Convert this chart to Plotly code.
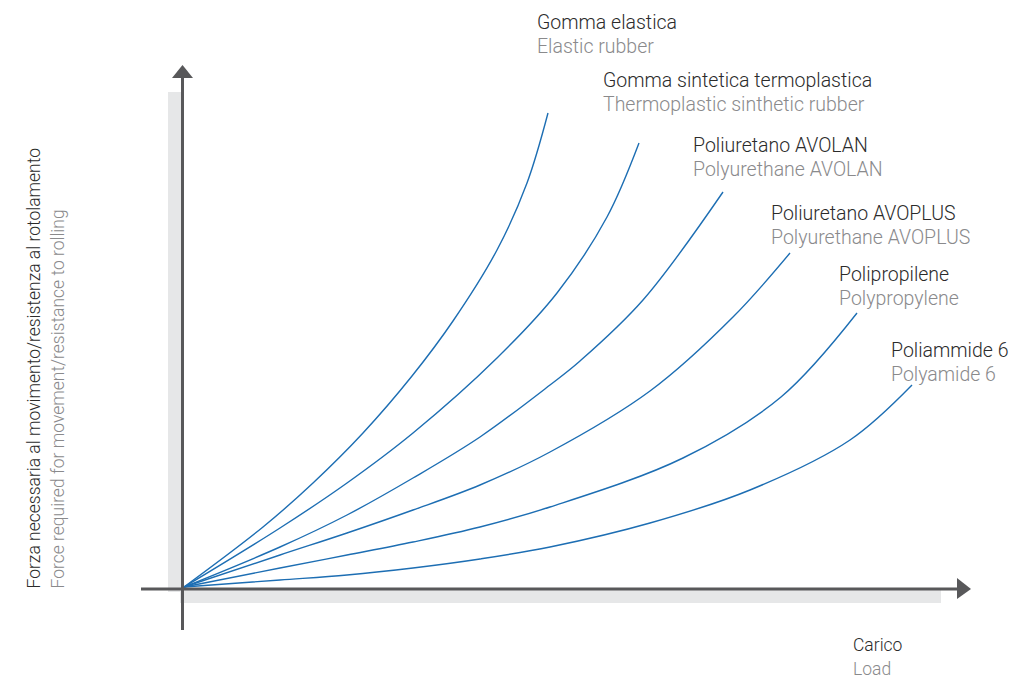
import plotly.graph_objects as go

# Curves (x = load, y = force, arbitrary units)
names_it = ["Gomma elastica", "Gomma sintetica termoplastica", "Poliuretano AVOLAN",
            "Poliuretano AVOPLUS", "Polipropilene", "Poliammide 6"]
names_en = ["Elastic rubber", "Thermoplastic sinthetic rubber", "Polyurethane AVOLAN",
            "Polyurethane AVOPLUS", "Polypropylene", "Polyamide 6"]

x_gomma = [0, 79, 129, 179, 228, 269, 313, 343, 364]
y_gomma = [0, 60, 104, 154, 211, 266, 337, 404, 474]

x_termo = [0, 96, 163, 229, 313, 373, 423, 455]
y_termo = [0, 59, 104, 154, 229, 294, 370, 444]

x_avolan = [0, 96, 163, 229, 296, 366, 396, 459, 539]
y_avolan = [0, 40, 72, 109, 150, 202, 226, 287, 395]

x_avoplus = [0, 96, 163, 229, 296, 366, 466, 549, 606]
y_avoplus = [0, 32, 54, 77, 102, 135, 196, 270, 334]

x_pp = [0, 96, 163, 229, 296, 366, 499, 597, 673]
y_pp = [0, 19, 32, 45, 60, 80, 129, 190, 274]

x_pa = [0, 96, 163, 229, 296, 366, 466, 566, 666, 728]
y_pa = [0, 7, 12, 19, 28, 40, 64, 97, 147, 202]

xs = [x_gomma, x_termo, x_avolan, x_avoplus, x_pp, x_pa]
ys = [y_gomma, y_termo, y_avolan, y_avoplus, y_pp, y_pa]

# label anchor (left x, baseline y of first line)
label_x = [351, 417, 507, 585, 653, 705]
label_base = [558, 500, 435, 367, 306, 230]

y_title_it = "Forza necessaria al movimento/resistenza al rotolamento"
y_title_en = "Force required for movement/resistance to rolling"
x_title_it = "Carico"
x_title_en = "Load"

FONT = "Roboto, Liberation Sans, sans-serif"
BLUE = "#1d6eb3"
AXIS = "#58585a"
BAND = "#e6e7e8"
DARK = "#2b2b2b"
GREY = "#8a8a8c"

fig = go.Figure()
for xv, yv in zip(xs, ys):
    fig.add_trace(go.Scatter(x=xv, y=yv, mode="lines",
                             line=dict(color=BLUE, width=1.4, shape="spline", smoothing=1.0),
                             hoverinfo="skip", showlegend=False))

shapes = [
    dict(type="rect", x0=-16, x1=-2, y0=-5, y1=495, fillcolor=BAND, line=dict(width=0), layer="below"),
    dict(type="rect", x0=-4, x1=757, y0=-16, y1=-2, fillcolor=BAND, line=dict(width=0), layer="below"),
    dict(type="line", x0=-1.5, x1=-1.5, y0=-43, y1=510, line=dict(color=AXIS, width=3)),
    dict(type="line", x0=-43, x1=774, y0=-2, y1=-2, line=dict(color=AXIS, width=3)),
    dict(type="path", path="M -12 509 L 9 509 L -1.5 522 Z", fillcolor=AXIS, line=dict(width=0)),
    dict(type="path", path="M 773 9 L 773 -12 L 787 -2 Z", fillcolor=AXIS, line=dict(width=0)),
]

annotations = []
FS = 19.5
for i in range(6):
    for j, (txt, col) in enumerate([(names_it[i], DARK), (names_en[i], GREY)]):
        annotations.append(dict(x=label_x[i], y=label_base[i] - 24 * j + 0.33 * FS, text=txt,
                                xref="x", yref="y", xanchor="left", yanchor="middle", showarrow=False,
                                font=dict(family=FONT, size=FS, color=col, weight=300)))

FS2 = 17.5
annotations += [
    dict(x=667, y=-64 + 0.33 * FS2, text=x_title_it, xref="x", yref="y", xanchor="left", yanchor="middle",
         showarrow=False, font=dict(family=FONT, size=FS2, color=DARK, weight=300)),
    dict(x=667, y=-88 + 0.33 * FS2, text=x_title_en, xref="x", yref="y", xanchor="left", yanchor="middle",
         showarrow=False, font=dict(family=FONT, size=FS2, color=GREY, weight=300)),
    dict(x=-151, y=-4, text=y_title_it, xref="x", yref="y", xanchor="center", yanchor="bottom", textangle=-90,
         showarrow=False, font=dict(family=FONT, size=FS2, color=DARK, weight=300)),
    dict(x=-127, y=-4, text=y_title_en, xref="x", yref="y", xanchor="center", yanchor="bottom", textangle=-90,
         showarrow=False, font=dict(family=FONT, size=FS2, color=GREY, weight=300)),
]

fig.update_layout(
    width=1013, height=683, margin=dict(l=0, r=0, t=0, b=0),
    paper_bgcolor="white", plot_bgcolor="white",
    xaxis=dict(range=[-184, 829], visible=False, fixedrange=True),
    yaxis=dict(range=[-96, 587], visible=False, fixedrange=True),
    shapes=shapes, annotations=annotations, showlegend=False,
)

fig.write_html("out.html", config={"displayModeBar": False},
               post_script="document.body.style.margin='0';")
